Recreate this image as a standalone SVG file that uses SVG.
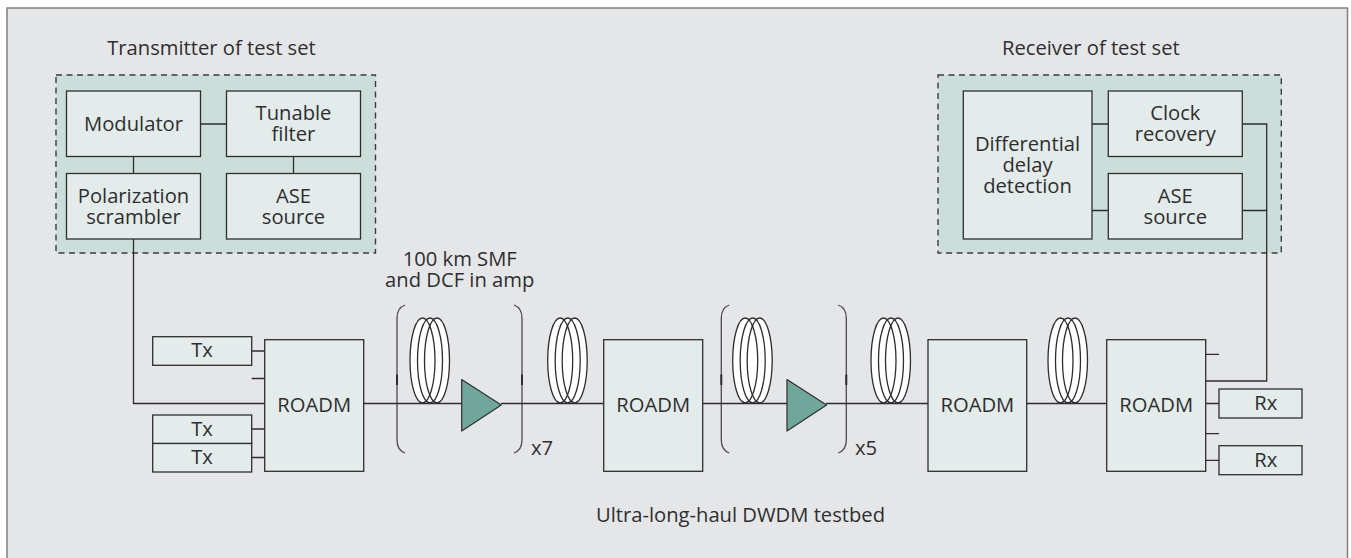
<svg xmlns="http://www.w3.org/2000/svg" width="1351" height="558" viewBox="0 0 1351 558">
<style>
text{font-family:"Open Sans","Noto Sans","Liberation Sans",sans-serif;font-size:20.2px;fill:#2e2e30;text-anchor:middle}
.box{fill:#e3ecea;stroke:#2e2e30;stroke-width:1.3}
.dash{fill:#cbded9;stroke:#3c3c3e;stroke-width:1.4;stroke-dasharray:6 4.5}
.ln{fill:none;stroke:#2e2e30;stroke-width:1.3}
.br{fill:none;stroke:#4a4a4c;stroke-width:1.3}
.tk{fill:none;stroke:#2e2e30;stroke-width:2}
.amp{fill:#6fa79b;stroke:#2e2e30;stroke-width:1.2;stroke-linejoin:round}
.cw{fill:#fff;stroke:none}
.cs{fill:none;stroke:#2e2e30;stroke-width:1.3}
</style>
<defs>
<g id="coil">
<ellipse class="cw" cx="12.5" cy="0" rx="12.5" ry="42.5"/><ellipse class="cw" cx="20" cy="0" rx="12.5" ry="42.5"/><ellipse class="cw" cx="27" cy="0" rx="12.5" ry="42.5"/>
<ellipse class="cs" cx="12.5" cy="0" rx="12.5" ry="42.5"/><ellipse class="cs" cx="20" cy="0" rx="12.5" ry="42.5"/><ellipse class="cs" cx="27" cy="0" rx="12.5" ry="42.5"/>
</g>
<g id="span">
<path class="br" d="M8 305Q0 308 0 318V440Q0 450 8 453"/>
<path class="br" d="M117 305Q125 308 125 318V440Q125 450 117 453"/>
<path class="tk" d="M0 374.5V385M125 374.5V385"/>
</g>
</defs>
<rect id="frame" x="7" y="8" width="1340.5" height="560" fill="#e5e6e8" stroke="#808080" stroke-width="1.5"/>
<g id="transmitter-set">
<text x="211.5" y="55">Transmitter of test set</text>
<rect class="dash" x="56" y="75" width="319.5" height="178"/>
</g>
<g id="receiver-set">
<text x="1090.8" y="55">Receiver of test set</text>
<rect class="dash" x="938" y="75" width="343.3" height="178"/>
</g>
<g id="span1"><use href="#span" x="397"/><use href="#coil" x="410" y="360.5"/></g>
<g id="coil2"><use href="#coil" x="547.7" y="360.5"/></g>
<g id="span2"><use href="#span" x="721.3"/><use href="#coil" x="732.7" y="360.5"/></g>
<g id="coil3"><use href="#coil" x="871" y="360.5"/></g>
<g id="coil4"><use href="#coil" x="1048" y="360.5"/></g>
<g id="connectors">
<path class="ln" d="M200.5 124H226.5M133.5 156.5V173.5M293.5 156.5V173.5M133.5 239V403.5H264.7"/>
<path class="ln" d="M1092 124H1108.3M1092 210.5H1108.3M1242.3 124H1266.7V381H1205.7M1242.3 210.5H1266.7"/>
<path class="ln" d="M251.7 351H264.7M251.7 378.5H264.7M251.7 429H264.7M251.7 457.5H264.7"/>
<path class="ln" d="M363.7 403.5H461.7M501 403.5H603.7M702.7 403.5H787M826 403.5H928M1026.7 403.5H1106.7"/>
<path class="ln" d="M1205.7 354.3H1219M1205.7 403.5H1219M1205.7 433.7H1219M1205.7 460.3H1219"/>
</g>
<g id="amp1"><polygon class="amp" points="461.7,379.5 501.3,405 461.7,431"/></g>
<g id="amp2"><polygon class="amp" points="787,379.5 826.6,405 787,431"/></g>
<g id="modulator"><rect class="box" x="66.5" y="91" width="134" height="65.5"/><text x="133.5" y="130.7">Modulator</text></g>
<g id="tunable-filter"><rect class="box" x="226.5" y="91" width="134" height="65.5"/><text y="120"><tspan x="293.5">Tunable</tspan><tspan x="293.5" dy="21">filter</tspan></text></g>
<g id="polarization-scrambler"><rect class="box" x="66.5" y="173.5" width="134" height="65.5"/><text y="202.7"><tspan x="133.5">Polarization</tspan><tspan x="133.5" dy="21.3">scrambler</tspan></text></g>
<g id="ase-source-tx"><rect class="box" x="226.5" y="173.5" width="134" height="65.5"/><text y="202.7"><tspan x="293.5">ASE</tspan><tspan x="293.5" dy="21.3">source</tspan></text></g>
<g id="differential-delay"><rect class="box" x="963.3" y="91" width="128.7" height="148"/><text y="150.7"><tspan x="1027.5">Differential</tspan><tspan x="1027.5" dy="21">delay</tspan><tspan x="1027.5" dy="21">detection</tspan></text></g>
<g id="clock-recovery"><rect class="box" x="1108.3" y="91" width="134" height="65.5"/><text y="120"><tspan x="1175.3">Clock</tspan><tspan x="1175.3" dy="21">recovery</tspan></text></g>
<g id="ase-source-rx"><rect class="box" x="1108.3" y="173.5" width="134" height="65.5"/><text y="202.7"><tspan x="1175.3">ASE</tspan><tspan x="1175.3" dy="21.3">source</tspan></text></g>
<g id="tx1"><rect class="box" x="152.7" y="336.7" width="99" height="28.6"/><text x="202" y="357">Tx</text></g>
<g id="tx2"><rect class="box" x="152.7" y="415" width="99" height="28.5"/><text x="202" y="435.7">Tx</text></g>
<g id="tx3"><rect class="box" x="152.7" y="443.5" width="99" height="28.5"/><text x="202" y="464">Tx</text></g>
<g id="roadm1"><rect class="box" x="264.7" y="339.7" width="99" height="131.6"/><text x="314.2" y="412">ROADM</text></g>
<g id="roadm2"><rect class="box" x="603.7" y="339.7" width="99" height="131.6"/><text x="653.2" y="412">ROADM</text></g>
<g id="roadm3"><rect class="box" x="928" y="339.7" width="98.7" height="131.6"/><text x="977.4" y="412">ROADM</text></g>
<g id="roadm4"><rect class="box" x="1106.7" y="339.7" width="99" height="131.6"/><text x="1156.2" y="412">ROADM</text></g>
<g id="rx1"><rect class="box" x="1219" y="389" width="83" height="29"/><text x="1265.7" y="410">Rx</text></g>
<g id="rx2"><rect class="box" x="1219" y="445.7" width="83" height="29"/><text x="1265.7" y="466.7">Rx</text></g>
<g id="labels">
<text y="266"><tspan x="459.7">100 km SMF</tspan><tspan x="459.7" dy="20.7">and DCF in amp</tspan></text>
<text x="542" y="455">x7</text><text x="866" y="455">x5</text>
<text x="740.5" y="521.7">Ultra-long-haul DWDM testbed</text>
</g>
</svg>
